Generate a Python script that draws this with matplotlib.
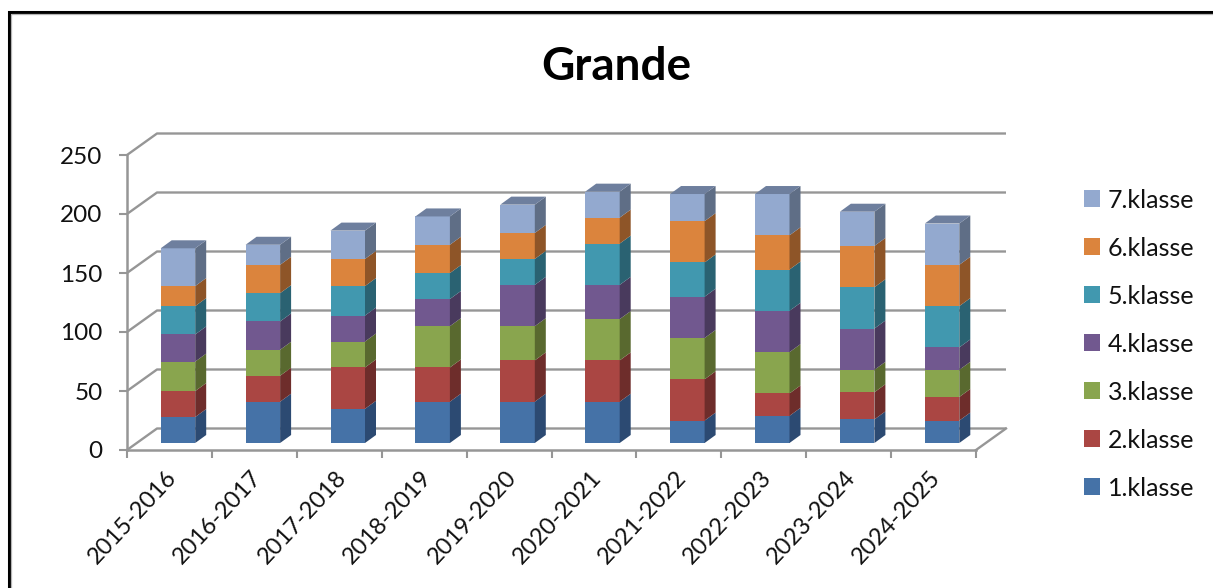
import matplotlib
matplotlib.use("Agg")
import matplotlib.pyplot as plt
from matplotlib.lines import Line2D
from matplotlib.patches import Polygon, Patch
from matplotlib.transforms import Affine2D
import numpy as np

plt.rcParams['font.family'] = ['Lato', 'DejaVu Sans']

title = "Grande"
years = ["2015-2016", "2016-2017", "2017-2018", "2018-2019", "2019-2020",
         "2020-2021", "2021-2022", "2022-2023", "2023-2024", "2024-2025"]
klasse1 = [22, 35, 29, 35, 35, 35, 19, 23, 20, 19]
klasse2 = [22, 22, 35, 29, 35, 35, 35, 19, 23, 20]
klasse3 = [25, 22, 22, 35, 29, 35, 35, 35, 19, 23]
klasse4 = [23, 24, 22, 23, 35, 29, 35, 35, 35, 19]
klasse5 = [24, 24, 25, 22, 22, 35, 29, 35, 35, 35]
klasse6 = [17, 24, 23, 24, 22, 22, 35, 29, 35, 35]
klasse7 = [32, 17, 24, 24, 24, 22, 23, 35, 29, 35]
series = [klasse1, klasse2, klasse3, klasse4, klasse5, klasse6, klasse7]
labels = ["1.klasse", "2.klasse", "3.klasse", "4.klasse", "5.klasse", "6.klasse", "7.klasse"]
front = ["#4572A7", "#AA4643", "#89A54E", "#71588F", "#4198AF", "#DB843D", "#93A9CF"]
side = ["#2C4A72", "#6E2D2B", "#59692F", "#493A5D", "#2A6272", "#8E5528", "#5F6E86"]
top_col = "#6E7F9E"
grey = "#969696"

W, H = 1213, 588
fig = plt.figure(figsize=(W / 100, H / 100), dpi=100, facecolor="white")
L, R, T, B = 127, 976, 155, 450
ax = fig.add_axes([L / W, 1 - B / H, (R - L) / W, (B - T) / H])
ax.set_xlim(0, 10)
ax.set_ylim(0, 250)
ax.patch.set_visible(False)
PXX = (R - L) / 10
PXY = (B - T) / 250

# depth of the 3D box, pixels
DX, DY = 30, 21.5
# bars sit inside the depth
BAR_DX0, BAR_DY0 = 8.5, 7
BAR_DDX, BAR_DDY = 11, 8
BAR_W = 34.5 / PXX


def off(x, y, dx, dy):
    return x + dx / PXX, y + dy / PXY


# back wall
for v in range(0, 251, 50):
    x0, y0 = off(0, v, DX, DY)
    x1, y1 = off(10, v, DX, DY)
    ax.plot([0, x0, x1], [v, y0, y1], color=grey, lw=1.7, clip_on=False, zorder=1, solid_capstyle="butt")
x0, y0 = off(10, 0, DX, DY)
ax.plot([10, x0], [0, y0], color=grey, lw=1.7, clip_on=False, zorder=1)

# bars
cum = np.zeros(len(years))
xs = np.arange(len(years)) + 0.5
z = 2
for s, vals in enumerate(series):
    vals = np.array(vals, dtype=float)
    bx, by = off(xs, cum, BAR_DX0, BAR_DY0)
    ax.bar(bx, vals, BAR_W, bottom=by, color=front[s], zorder=z, clip_on=False, linewidth=0)
    for i in range(len(years)):
        r = bx[i] + BAR_W / 2
        y0, y1 = by[i], by[i] + vals[i]
        pts = [(r, y0), off(r, y0, BAR_DDX, BAR_DDY), off(r, y1, BAR_DDX, BAR_DDY), (r, y1)]
        ax.add_patch(Polygon(pts, closed=True, fc=side[s], ec="none", zorder=z, clip_on=False))
        if s == len(series) - 1:
            l = bx[i] - BAR_W / 2
            pts = [(l, y1), off(l, y1, BAR_DDX, BAR_DDY), off(r, y1, BAR_DDX, BAR_DDY), (r, y1)]
            ax.add_patch(Polygon(pts, closed=True, fc=top_col, ec="none", zorder=z, clip_on=False))
    cum = cum + vals

# axes
for sp in ("top", "right"):
    ax.spines[sp].set_visible(False)
for sp in ("left", "bottom"):
    ax.spines[sp].set_color(grey)
    ax.spines[sp].set_linewidth(1.8)
ax.set_yticks(range(0, 251, 50))
ax.tick_params(axis="y", length=5.5, width=1.5, color=grey, labelsize=17.5, labelcolor="#111111", pad=12)
ax.set_xticks(np.arange(0, 11), minor=True)
ax.set_xticks(xs)
ax.set_xticklabels(years, rotation=47, ha="right", rotation_mode="anchor", fontsize=17, color="#111111")
ax.tick_params(axis="x", which="major", length=0, pad=12)
ax.tick_params(axis="x", which="minor", length=5.5, width=1.5, color=grey)
for lab in ax.get_xticklabels():
    lab.set_transform(lab.get_transform() + Affine2D().translate(-4, 0))

# title
fig.text(616 / W, 1 - 67 / H, title, ha="center", va="center", fontsize=33, fontweight="bold", color="black")

# legend
handles = [Patch(fc=front[i], ec="none", label=labels[i]) for i in range(6, -1, -1)]
fig.legend(handles=handles, loc="center left", bbox_to_anchor=(1084 / W, 1 - 344 / H), frameon=False,
           fontsize=18, handlelength=0.64, handleheight=0.64, handletextpad=0.32, labelspacing=1.0,
           borderpad=0, borderaxespad=0, labelcolor="#111111")

# frame
fig.add_artist(Line2D([8.7 / W, 8.7 / W, 1], [0, 1 - 12 / H, 1 - 12 / H], color="black", lw=2.2, solid_joinstyle="miter"))
fig.add_artist(Line2D([10.8 / W, 10.8 / W, 1], [0, 1 - 14.2 / H, 1 - 14.2 / H], color="#B5B5B5", lw=0.9, solid_joinstyle="miter"))

fig.savefig("out.png", dpi=100)
